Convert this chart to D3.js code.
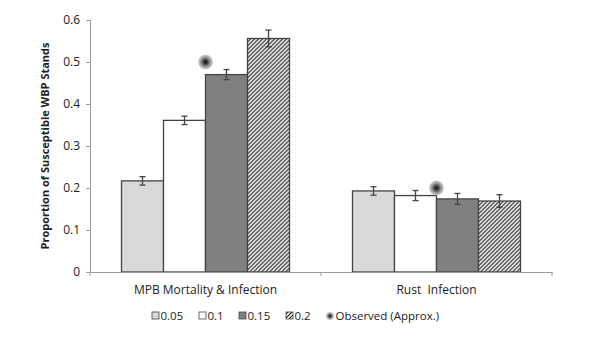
<!DOCTYPE html>
<html>
<head>
<meta charset="utf-8">
<script src="https://cdn.jsdelivr.net/npm/d3@7"></script>
<style>
  body { margin: 0; background: #fff; }
  svg text { font-family: "Open Sans", "Noto Sans", sans-serif; fill: #222; }
</style>
</head>
<body>
<div id="chart"></div>
<script>
// Chart values
var categories = ["MPB Mortality & Infection", "Rust  Infection"];
var seriesNames = ["0.05", "0.1", "0.15", "0.2"];
var values = [
  [0.217, 0.193],
  [0.361, 0.182],
  [0.470, 0.174],
  [0.556, 0.169]
];
var errors = [
  [0.010, 0.010],
  [0.010, 0.012],
  [0.012, 0.013],
  [0.020, 0.015]
];
var observed = [0.50, 0.20];
var yTicks = [0, 0.1, 0.2, 0.3, 0.4, 0.5, 0.6];

var width = 597, height = 346;
var margin = {top: 20, right: 45, bottom: 74, left: 90};
var plotW = width - margin.left - margin.right,
    plotH = height - margin.top - margin.bottom;

var fills = ["#d9d9d9", "#ffffff", "#808080", "url(#hatch)"];

var svg = d3.select("#chart").append("svg")
  .attr("width", width)
  .attr("height", height);

// Patterns and gradient
var defs = svg.append("defs");
var hatch = defs.append("pattern")
  .attr("id", "hatch")
  .attr("patternUnits", "userSpaceOnUse")
  .attr("width", 4)
  .attr("height", 4);
hatch.append("rect").attr("width", 4).attr("height", 4).attr("fill", "#fff");
hatch.append("path")
  .attr("d", "M-1,1 L1,-1 M0,4 L4,0 M3,5 L5,3")
  .attr("stroke", "#111").attr("stroke-width", 1.15);

var grad = defs.append("radialGradient").attr("id", "obsGrad");
grad.append("stop").attr("offset", "0%").attr("stop-color", "#111");
grad.append("stop").attr("offset", "30%").attr("stop-color", "#444");
grad.append("stop").attr("offset", "100%").attr("stop-color", "#aaa").attr("stop-opacity", 0.5);

var g = svg.append("g")
  .attr("transform", "translate(" + margin.left + "," + margin.top + ")");

// Scales
var x0 = d3.scaleBand().domain(categories).range([0, plotW]).paddingInner(0).paddingOuter(0);
var x1 = d3.scaleBand().domain(seriesNames).range([0, 168]);
var groupOffset = (x0.bandwidth() - 168) / 2;
var y = d3.scaleLinear().domain([0, 0.6]).range([plotH, 0]);

// Y axis
var yAxis = g.append("g")
  .call(d3.axisLeft(y).tickValues(yTicks).tickSize(4).tickPadding(6)
    .tickFormat(function(d) { return d === 0 ? "0" : d3.format(".1f")(d); }));
yAxis.select(".domain").attr("stroke", "#999");
yAxis.selectAll(".tick line").attr("stroke", "#999");
yAxis.selectAll("text").style("font-size", "12px").attr("fill", "#222");

// Bars
var groups = g.selectAll(".grp")
  .data(categories)
  .enter().append("g")
    .attr("class", "grp")
    .attr("transform", function(d) { return "translate(" + (x0(d) + groupOffset) + ",0)"; });

groups.each(function(cat, ci) {
  var grp = d3.select(this);
  seriesNames.forEach(function(s, si) {
    var v = values[si][ci], e = errors[si][ci];
    grp.append("rect")
      .attr("x", x1(s))
      .attr("y", y(v))
      .attr("width", x1.bandwidth())
      .attr("height", plotH - y(v))
      .attr("fill", fills[si])
      .attr("stroke", "#444")
      .attr("stroke-width", 1.3);
    var cx = x1(s) + x1.bandwidth() / 2;
    grp.append("line")
      .attr("x1", cx).attr("x2", cx)
      .attr("y1", y(v + e)).attr("y2", y(v - e))
      .attr("stroke", "#444").attr("stroke-width", 1.3);
    [v + e, v - e].forEach(function(t) {
      grp.append("line")
        .attr("x1", cx - 3).attr("x2", cx + 3)
        .attr("y1", y(t)).attr("y2", y(t))
        .attr("stroke", "#444").attr("stroke-width", 1.3);
    });
  });
  // Observed marker
  grp.append("circle")
    .attr("cx", 84)
    .attr("cy", y(observed[ci]))
    .attr("r", 7.5)
    .attr("fill", "url(#obsGrad)");
});

// X axis
var xAxis = g.append("g")
  .attr("transform", "translate(0," + plotH + ")")
  .call(d3.axisBottom(x0).tickSize(0).tickPadding(13));
xAxis.select(".domain").attr("stroke", "#999");
xAxis.selectAll("text").style("font-size", "12px").attr("fill", "#222").style("white-space", "pre");
// category boundary ticks
xAxis.selectAll(".bound")
  .data([0, x0.bandwidth(), plotW])
  .enter().append("line")
    .attr("x1", function(d) { return d; }).attr("x2", function(d) { return d; })
    .attr("y1", 0).attr("y2", 4)
    .attr("stroke", "#999");

// Y axis title
svg.append("text")
  .attr("transform", "translate(45," + (margin.top + plotH / 2) + ") rotate(-90)")
  .attr("text-anchor", "middle")
  .attr("dy", "0.35em")
  .style("font-size", "11px")
  .style("font-weight", "bold")
  .text("Proportion of Susceptible WBP Stands");

// Legend
var legendItems = [
  {label: "0.05", x: 152, type: "box", fill: fills[0]},
  {label: "0.1", x: 199, type: "box", fill: fills[1]},
  {label: "0.15", x: 239, type: "box", fill: fills[2]},
  {label: "0.2", x: 286, type: "box", fill: fills[3]},
  {label: "Observed (Approx.)", x: 327, type: "dot"}
];
var legend = svg.append("g").attr("transform", "translate(0,316)");
legendItems.forEach(function(it) {
  if (it.type === "box") {
    legend.append("rect")
      .attr("x", it.x).attr("y", -4)
      .attr("width", 7).attr("height", 7)
      .attr("fill", it.fill)
      .attr("stroke", "#444").attr("stroke-width", 0.8);
  } else {
    legend.append("circle")
      .attr("cx", it.x + 3).attr("cy", 0)
      .attr("r", 4)
      .attr("fill", "url(#obsGrad)");
  }
  legend.append("text")
    .attr("x", it.x + 8.5)
    .attr("y", 0)
    .attr("dy", "0.35em")
    .style("font-size", "11.5px")
    .text(it.label);
});
</script>
</body>
</html>
